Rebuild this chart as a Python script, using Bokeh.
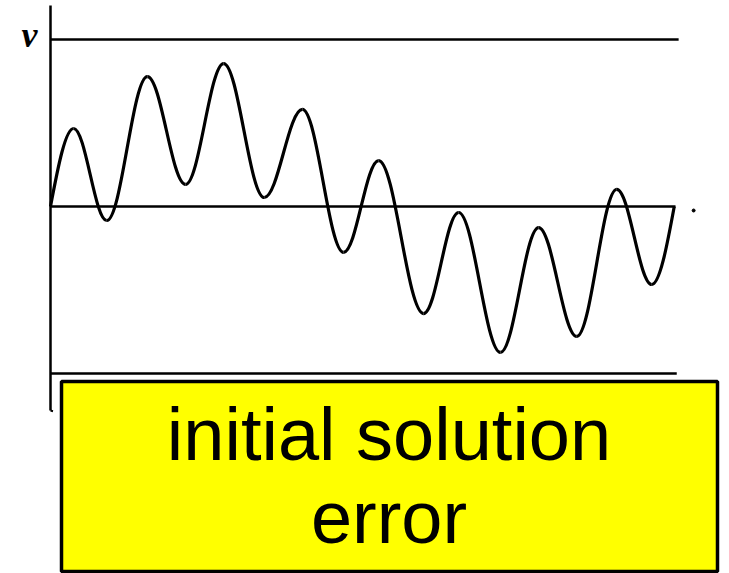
from bokeh.plotting import figure
from bokeh.models import Range1d
from bokeh.core.properties import value
from bokeh.embed import file_html
from bokeh.resources import INLINE

# Error curve: the start, the successive maxima/minima, and the end (t, v)
knot_t = [0.0, 0.037, 0.090, 0.155, 0.216, 0.277, 0.342, 0.403, 0.469,
          0.525, 0.597, 0.653, 0.720, 0.781, 0.842, 0.906, 0.962, 0.998]
knot_v = [0.0, 0.467, -0.084, 0.778, 0.132, 0.856, 0.054, 0.581, -0.275,
          0.275, -0.641, -0.036, -0.874, -0.126, -0.778, 0.102, -0.467, 0.0]

# Reference levels drawn as horizontal lines
levels = [1.0, 0.0, -1.0]
level_ends = [1.005, 1.0, 1.002]

axis_label = "v"
caption_lines = ["initial solution", "error"]

p = figure(width=729, height=573, output_backend="svg", toolbar_location=None,
           x_range=Range1d(-0.08, 1.0864), y_range=Range1d(-2.1976, 1.2335),
           min_border=0)
p.axis.visible = False
p.grid.visible = False
p.outline_line_color = None
p.background_fill_color = "white"
p.border_fill_color = "white"

# vertical axis
p.segment(x0=[0.0], y0=[1.204], x1=[0.0], y1=[-1.222], line_color="black", line_width=2.5)
p.segment(x0=[0.0], y0=[-1.222], x1=[0.004], y1=[-1.226], line_color="black", line_width=2)

# horizontal levels
p.segment(x0=[0.0] * len(levels), y0=levels, x1=level_ends, y1=levels,
          line_color="black", line_width=2.5)

# smooth curve through the extrema: cubic pieces with flat tangents at extrema
x0, y0, x1, y1, cx0, cy0, cx1, cy1 = [], [], [], [], [], [], [], []
n = len(knot_t)
for i in range(n - 1):
    ta, va, tb, vb = knot_t[i], knot_v[i], knot_t[i + 1], knot_v[i + 1]
    dt, dv = tb - ta, vb - va
    if i == 0:
        c0 = (ta + 0.326 * dt, va + 0.512 * dv)
        c1 = (ta + 0.648 * dt, vb)
    elif i == n - 2:
        c0 = (ta + 0.352 * dt, va)
        c1 = (ta + 0.674 * dt, va + 0.488 * dv)
    else:
        c0 = (ta + 0.364 * dt, va)
        c1 = (tb - 0.364 * dt, vb)
    x0.append(ta); y0.append(va); x1.append(tb); y1.append(vb)
    cx0.append(c0[0]); cy0.append(c0[1]); cx1.append(c1[0]); cy1.append(c1[1])

p.bezier(x0=x0, y0=y0, x1=x1, y1=y1, cx0=cx0, cy0=cy0, cx1=cx1, cy1=cy1,
         line_color="black", line_width=3.2)

# stray dot at the right end of the zero line
p.scatter(x=[1.029], y=[-0.024], size=3, color="black")

# axis label
p.text(x=[-0.0336], y=[1.028], text=[axis_label], text_font=value("Liberation Serif"),
       text_font_style="bold italic", text_font_size="36px", text_align="center",
       text_baseline="alphabetic", text_color="black")

# caption box
p.quad(left=[0.0176], right=[1.0672], top=[-1.048], bottom=[-2.186],
       fill_color="#ffff00", line_color="black", line_width=3.5)
p.text(x=[0.5416, 0.5416], y=[-1.365, -1.862], text=caption_lines,
       text_font=value("Liberation Sans"), text_font_size="74px",
       text_align="center", text_baseline="alphabetic", text_color="black")

open("out.html", "w").write(file_html(p, INLINE))
